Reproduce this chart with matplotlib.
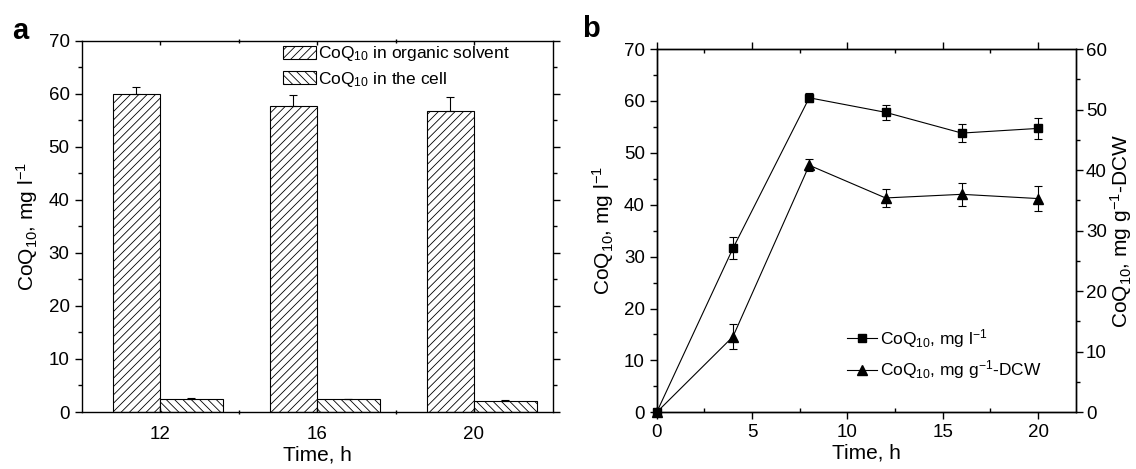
import matplotlib
matplotlib.use("Agg")
import matplotlib.pyplot as plt
import numpy as np
from matplotlib.ticker import MultipleLocator, FixedLocator
from matplotlib.lines import Line2D

plt.rcParams['font.family'] = ['Liberation Sans', 'DejaVu Sans']
plt.rcParams['mathtext.fontset'] = 'custom'
plt.rcParams['mathtext.rm'] = 'Liberation Sans'
plt.rcParams['mathtext.it'] = 'Liberation Sans:italic'
plt.rcParams['mathtext.bf'] = 'Liberation Sans:bold'
plt.rcParams['hatch.linewidth'] = 0.6
plt.rcParams['axes.linewidth'] = 1.0

# ---------------- data ----------------
# panel a
a_times = ["12", "16", "20"]
a_organic = [60.0, 57.6, 56.7]
a_organic_err = [1.3, 2.1, 2.6]
a_cell = [2.4, 2.4, 2.1]
a_cell_err = [0.15, 0.1, 0.2]

# panel b
b_time = [0, 4, 8, 12, 16, 20]
b_mgl = [0.0, 31.6, 60.6, 57.8, 53.8, 54.7]
b_mgl_err = [0.0, 2.1, 0.9, 1.5, 1.8, 2.0]
b_mgg = [0.0, 12.5, 40.8, 35.4, 36.0, 35.3]
b_mgg_err = [0.0, 2.1, 1.0, 1.5, 1.9, 2.1]

W, H = 1136, 469
fig = plt.figure(figsize=(W / 100, H / 100), dpi=100)

TFS = 13.5   # tick labels
FS = 15      # axis labels
LFS = 12.5   # legend


def fbox(x0, x1, y0, y1):
    return [x0 / W, 1 - y1 / H, (x1 - x0) / W, (y1 - y0) / H]


# ---------------- panel a ----------------
ax = fig.add_axes(fbox(81.5, 552.5, 40.7, 412.0))
xpos = np.arange(1, len(a_times) + 1)
w_org, w_cell = 0.30, 0.40
ax.bar(xpos - w_org, a_organic, width=w_org, align='edge', facecolor='white',
       edgecolor='black', hatch='////', linewidth=0.8,
       label='CoQ$_{10}$ in organic solvent')
ax.bar(xpos, a_cell, width=w_cell, align='edge', facecolor='white',
       edgecolor='black', hatch='\\\\\\\\', linewidth=0.8,
       label='CoQ$_{10}$ in the cell')
ax.errorbar(xpos - w_org / 2, a_organic, yerr=[np.zeros(3), a_organic_err],
            fmt='none', ecolor='black', elinewidth=0.8, capsize=3, capthick=0.8)
ax.errorbar(xpos + w_cell / 2, a_cell, yerr=[np.zeros(3), a_cell_err],
            fmt='none', ecolor='black', elinewidth=0.8, capsize=3, capthick=0.8)
ax.set_xlim(0.5, 3.5)
ax.set_ylim(0, 70)
ax.set_xticks(xpos)
ax.set_xticklabels(a_times)
ax.yaxis.set_major_locator(MultipleLocator(10))
ax.yaxis.set_minor_locator(MultipleLocator(5))
ax.xaxis.set_minor_locator(FixedLocator([1.5, 2.5]))
ax.tick_params(axis='y', which='major', direction='out', length=5, labelsize=TFS, width=1)
ax.tick_params(axis='y', which='minor', direction='out', length=3, width=1)
ax.tick_params(axis='x', which='major', direction='in', length=3, labelsize=TFS,
               pad=10, top=True, width=1)
ax.tick_params(axis='x', which='minor', direction='inout', length=3, top=True, width=1)
ax.tick_params(axis='y', right=True, which='both')
ax.tick_params(axis='y', which='both', labelright=False)
ax.set_xlabel('Time, h', fontsize=FS, labelpad=2)
ax.set_ylabel('CoQ$_{10}$, mg l$^{-1}$', fontsize=FS, labelpad=6)
ax.legend(loc='center left', bbox_to_anchor=(283 / W, 1 - 66.5 / H),
          bbox_transform=fig.transFigure, frameon=False,
          fontsize=LFS, handlelength=1.9, handleheight=0.85,
          handletextpad=0.1, labelspacing=0.35, borderpad=0,
          borderaxespad=0)
fig.text(12 / W, 1 - 39 / H, 'a', fontsize=21, fontweight='bold')

# ---------------- panel b ----------------
bx = fig.add_axes(fbox(656.7, 1076.2, 49.0, 412.3))
bx2 = bx.twinx()
bx.errorbar(b_time, b_mgl, yerr=b_mgl_err, color='black', marker='s',
            markersize=6, linewidth=0.8, elinewidth=0.8, capsize=3,
            capthick=0.8, clip_on=False)
bx2.errorbar(b_time, b_mgg, yerr=b_mgg_err, color='black', marker='^',
             markersize=6.5, linewidth=0.8, elinewidth=0.8, capsize=3,
             capthick=0.8, clip_on=False)
bx.set_xlim(0, 22)
bx.set_ylim(0, 70)
bx2.set_ylim(0, 60)
bx.xaxis.set_major_locator(MultipleLocator(5))
bx.xaxis.set_minor_locator(MultipleLocator(2.5))
bx.yaxis.set_major_locator(MultipleLocator(10))
bx.yaxis.set_minor_locator(MultipleLocator(5))
bx2.yaxis.set_major_locator(MultipleLocator(10))
bx2.yaxis.set_minor_locator(MultipleLocator(5))
bx.tick_params(axis='both', which='major', direction='out', length=5, labelsize=TFS, width=1)
bx.tick_params(axis='x', which='minor', direction='in', length=3, width=1, top=True)
bx.tick_params(axis='x', which='major', top=True)
bx.tick_params(axis='y', which='minor', direction='out', length=3, width=1)
bx2.tick_params(axis='y', which='major', direction='out', length=5, labelsize=TFS,
                width=1, pad=2)
bx2.tick_params(axis='y', which='minor', direction='out', length=3, width=1)
bx.set_xlabel('Time, h', fontsize=FS, labelpad=2)
bx.set_ylabel('CoQ$_{10}$, mg l$^{-1}$', fontsize=FS, labelpad=6)
bx2.set_ylabel('CoQ$_{10}$, mg g$^{-1}$-DCW', fontsize=FS, labelpad=1)
handles = [Line2D([], [], color='black', marker='s', markersize=6, linewidth=0.8),
           Line2D([], [], color='black', marker='^', markersize=6.5, linewidth=0.8)]
labels = ['CoQ$_{10}$, mg l$^{-1}$', 'CoQ$_{10}$, mg g$^{-1}$-DCW']
bx2.legend(handles, labels, loc='center left',
           bbox_to_anchor=(847 / W, 1 - 354 / H),
           bbox_transform=fig.transFigure, frameon=False, fontsize=LFS,
           handlelength=1.75, handletextpad=0.15, labelspacing=0.5,
           borderpad=0, borderaxespad=0)
fig.text(582 / W, 1 - 37 / H, 'b', fontsize=21, fontweight='bold')

fig.savefig('out.png', dpi=100)
